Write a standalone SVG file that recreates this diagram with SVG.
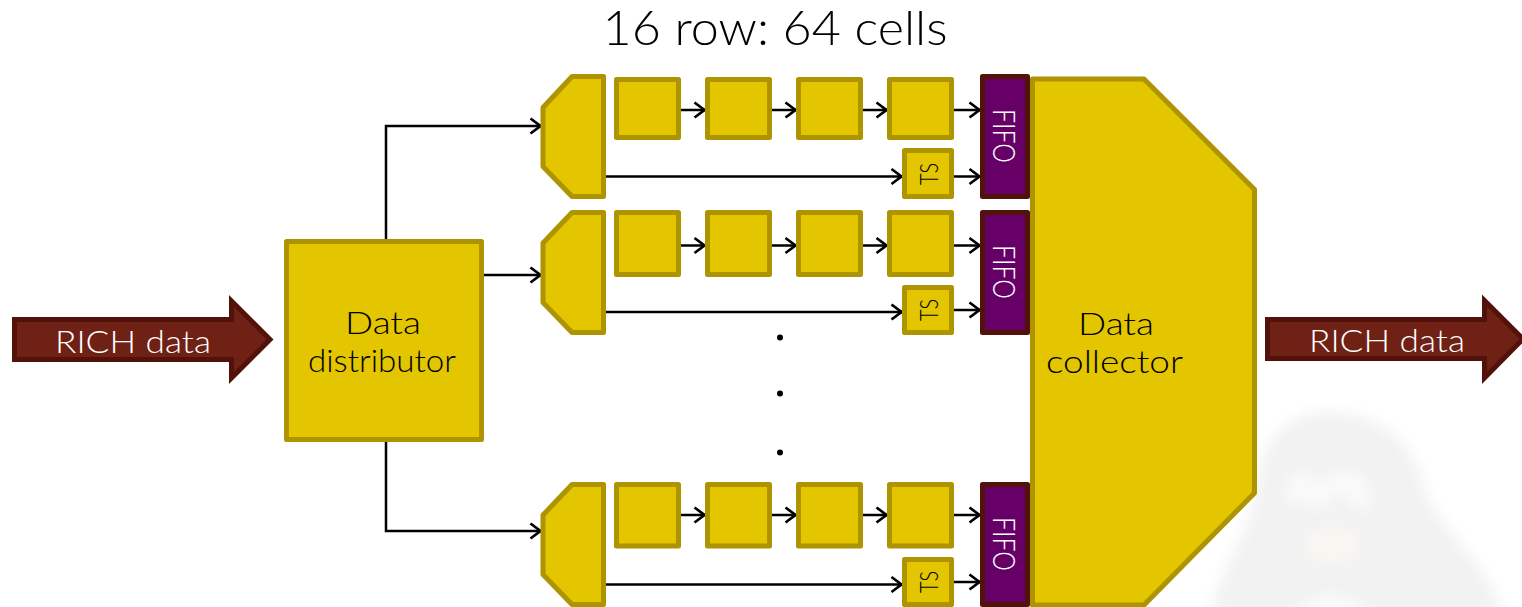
<svg xmlns="http://www.w3.org/2000/svg" width="1522" height="607" viewBox="0 0 1522 607">
<style>
text{font-family:"Lato","Liberation Sans",sans-serif;font-weight:300}
.b{fill:#e3c500;stroke:#ad9400;stroke-width:5;stroke-linejoin:round}
.f{fill:#660066;stroke:#521209;stroke-width:5;stroke-linejoin:round}
.a{fill:#6e2114;stroke:#521209;stroke-width:5;stroke-linejoin:miter}
.c{fill:none;stroke:#000;stroke-width:2.5;marker-end:url(#h)}
.k{fill:#000;font-size:31px;text-anchor:middle}
.w{fill:#fff;font-size:31px;text-anchor:middle}
.fi{fill:#fff;font-size:31px}
.ts{fill:#000;font-size:26px}
</style>
<defs>
<marker id="h" markerUnits="userSpaceOnUse" markerWidth="14" markerHeight="20" refX="11.500" refY="9" orient="auto" overflow="visible"><path d="M1 1.500 L11 9 L1 16.500" fill="none" stroke="#000" stroke-width="2.700"/></marker>
<filter id="blur" x="-20%" y="-20%" width="140%" height="140%"><feGaussianBlur stdDeviation="7"/></filter>
</defs>
<rect width="1522" height="607" fill="#fff"/>
<g id="watermark" filter="url(#blur)">
<path d="M1210 620 C1216 570 1255 530 1258 480 C1262 430 1300 412 1328 412 C1375 412 1415 440 1425 490 C1435 525 1488 560 1505 620Z" fill="#f2f2f2"/>
<path d="M1292 510 C1280 490 1290 470 1305 472 C1312 473 1316 480 1318 490 C1322 478 1332 470 1348 472 C1368 474 1376 492 1368 512 L1350 505 C1350 490 1332 488 1328 505 L1310 510 C1310 495 1298 495 1292 510Z" fill="#fafafa"/>
<ellipse cx="1332" cy="545" rx="27" ry="18" fill="#f9f7f2"/>
<ellipse cx="1330" cy="622" rx="38" ry="26" fill="#fbfbfb"/>
</g>
<g id="connectors">
<path class="c" d="M386 239V126H541"/>
<path class="c" d="M484 275H541"/>
<path class="c" d="M386 442V531H541"/>
<path class="c" d="M681 110H705"/><path class="c" d="M772 110H796"/><path class="c" d="M863 110H887"/><path class="c" d="M954 110H980"/>
<path class="c" d="M606 176.500H902"/><path class="c" d="M954 176.500H980"/>
<path class="c" d="M681 245.500H705"/><path class="c" d="M772 245.500H796"/><path class="c" d="M863 245.500H887"/><path class="c" d="M954 245.500H980"/>
<path class="c" d="M606 312H902"/><path class="c" d="M954 310H980"/>
<path class="c" d="M681 515H705"/><path class="c" d="M772 515H796"/><path class="c" d="M863 515H887"/><path class="c" d="M954 515H980"/>
<path class="c" d="M606 584.500H902"/><path class="c" d="M954 582H980"/>
</g>
<g id="rich-in"><path class="a" d="M14.500 319.500H231.500V301L270 339.500L231.500 378V359.500H14.500Z"/><text class="w" x="133" y="353" textLength="156" lengthAdjust="spacingAndGlyphs">RICH data</text></g>
<g id="distributor"><rect class="b" x="286.500" y="241.500" width="195" height="198"/><text class="k" x="383" y="334" textLength="76" lengthAdjust="spacingAndGlyphs">Data</text><text class="k" x="382" y="372" textLength="148" lengthAdjust="spacingAndGlyphs">distributor</text></g>
<g id="row1">
<path class="b" d="M543 107.500L572 76.500H603.500V196.500H572L543 166.500Z"/>
<rect class="b" x="616.500" y="79.500" width="62" height="58"/><rect class="b" x="707.500" y="79.500" width="62" height="58"/><rect class="b" x="798.500" y="79.500" width="62" height="58"/><rect class="b" x="889.500" y="79.500" width="62" height="58"/>
<rect class="b" x="904.500" y="150.500" width="47" height="46"/><text class="ts" transform="translate(938 185) rotate(-90)" textLength="22" lengthAdjust="spacingAndGlyphs">TS</text>
<rect class="f" x="982.500" y="76.500" width="45" height="120"/><text class="fi" transform="translate(993 109) rotate(90)" textLength="54" lengthAdjust="spacingAndGlyphs">FIFO</text>
</g>
<g id="row2">
<path class="b" d="M543 243L572 212.500H603.500V332.500H572L543 302.500Z"/>
<rect class="b" x="616.500" y="212.500" width="62" height="62"/><rect class="b" x="707.500" y="212.500" width="62" height="62"/><rect class="b" x="798.500" y="212.500" width="62" height="62"/><rect class="b" x="889.500" y="212.500" width="62" height="62"/>
<rect class="b" x="904.500" y="287.500" width="47" height="45"/><text class="ts" transform="translate(938 321) rotate(-90)" textLength="22" lengthAdjust="spacingAndGlyphs">TS</text>
<rect class="f" x="982.500" y="212.500" width="45" height="120"/><text class="fi" transform="translate(993 245) rotate(90)" textLength="54" lengthAdjust="spacingAndGlyphs">FIFO</text>
</g>
<g id="row3">
<path class="b" d="M543 515L572 484.500H603.500V604.500H572L543 574.500Z"/>
<rect class="b" x="616.500" y="484.500" width="62" height="61.500"/><rect class="b" x="707.500" y="484.500" width="62" height="61.500"/><rect class="b" x="798.500" y="484.500" width="62" height="61.500"/><rect class="b" x="889.500" y="484.500" width="62" height="61.500"/>
<rect class="b" x="904.500" y="559.500" width="47" height="45"/><text class="ts" transform="translate(938 593) rotate(-90)" textLength="22" lengthAdjust="spacingAndGlyphs">TS</text>
<rect class="f" x="982.500" y="484.500" width="45" height="120"/><text class="fi" transform="translate(993 517) rotate(90)" textLength="54" lengthAdjust="spacingAndGlyphs">FIFO</text>
</g>
<g id="collector"><path class="b" d="M1032.500 79H1144L1254.500 189.500V493L1144 605H1032.500Z"/><text class="k" x="1116" y="335" textLength="76" lengthAdjust="spacingAndGlyphs">Data</text><text class="k" x="1114.500" y="373" textLength="137" lengthAdjust="spacingAndGlyphs">collector</text></g>
<g id="rich-out"><path class="a" d="M1267.500 319.500H1484.500V300.500L1523 339L1484.500 378V358.500H1267.500Z"/><text class="w" x="1387" y="352" textLength="156" lengthAdjust="spacingAndGlyphs">RICH data</text></g>
<g id="dots" fill="#000"><circle cx="780" cy="337.500" r="3"/><circle cx="780" cy="393.500" r="3"/><circle cx="780" cy="452.500" r="3"/></g>
<text id="title" x="775" y="45" font-size="47" text-anchor="middle" fill="#000" textLength="345" lengthAdjust="spacingAndGlyphs">16 row: 64 cells</text>
</svg>
